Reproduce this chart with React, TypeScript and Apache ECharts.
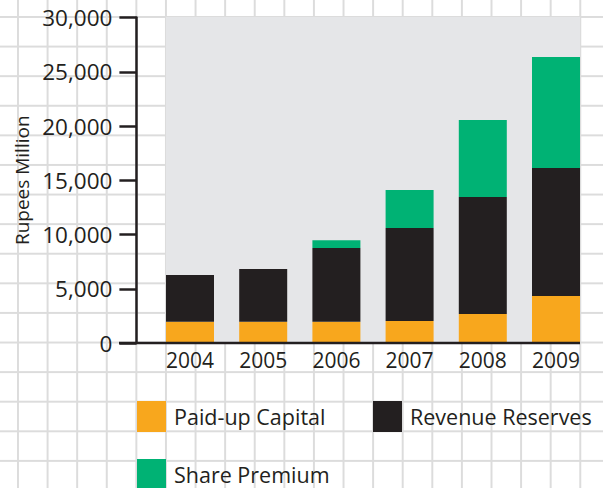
import React, { useEffect, useRef } from "react";
import * as echarts from "echarts";

const years = ["2004", "2005", "2006", "2007", "2008", "2009"];
const paidUpCapital = [1950, 1950, 1950, 2030, 2670, 4330];
const revenueReserves = [4320, 4870, 6800, 8570, 10790, 11800];
const sharePremium = [0, 0, 730, 3500, 7090, 10230];

const COLORS = { orange: "#f8a71d", black: "#231f20", green: "#00b274", gray: "#e5e6e8" };
const FONT = "Open Sans";
const TEXT = "#231f20";

export default function App() {
  const ref = useRef<HTMLDivElement>(null);
  useEffect(() => {
    if (!ref.current) return;
    const chart = echarts.init(ref.current, undefined, { renderer: "svg" });
    const legendBase = {
      orient: "horizontal",
      padding: 0,
      itemWidth: 29,
      itemHeight: 31,
      icon: "rect",
      selectedMode: false,
      textStyle: { fontFamily: FONT, fontSize: 21.5, lineHeight: 22, color: TEXT, padding: [0, 0, 0, 3] },
    };
    chart.setOption({
      animation: false,
      textStyle: { fontFamily: FONT },
      grid: { left: 153.4, right: 10.4, top: 17.5, bottom: 145 },
      graphic: [
        { type: "rect", z: -10, shape: { x: 166, y: 17, width: 414, height: 326 }, style: { fill: COLORS.gray } },
        { type: "line", z: 100, shape: { x1: 119, y1: 343, x2: 580, y2: 343 }, style: { stroke: TEXT, lineWidth: 2.5 } },
      ],
      legend: [
        { ...legendBase, left: 137, top: 401, data: ["Paid-up Capital"] },
        { ...legendBase, left: 373, top: 401, data: ["Revenue Reserves"] },
        { ...legendBase, left: 137, top: 459, data: ["Share Premium"] },
      ],
      xAxis: {
        type: "category",
        data: years,
        axisLine: { show: false },
        axisTick: { show: false },
        axisLabel: { fontFamily: FONT, fontSize: 21, color: TEXT, margin: 6 },
      },
      yAxis: {
        type: "value",
        min: 0,
        max: 30000,
        interval: 5000,
        offset: 17,
        name: "Rupees Million",
        nameLocation: "middle",
        nameGap: 103,
        nameTextStyle: { fontFamily: FONT, fontSize: 19, color: TEXT },
        axisLine: { show: true, lineStyle: { color: TEXT, width: 2.5 } },
        axisTick: { show: true, length: 17, lineStyle: { color: TEXT, width: 2.5 } },
        axisLabel: {
          fontFamily: FONT,
          fontSize: 22.5,
          color: TEXT,
          margin: 24,
          formatter: (v: number) => v.toLocaleString("en-US"),
        },
        splitLine: { show: false },
      },
      series: [
        { name: "Paid-up Capital", type: "bar", stack: "t", barWidth: 48, data: paidUpCapital, itemStyle: { color: COLORS.orange } },
        { name: "Revenue Reserves", type: "bar", stack: "t", barWidth: 48, data: revenueReserves, itemStyle: { color: COLORS.black } },
        { name: "Share Premium", type: "bar", stack: "t", barWidth: 48, data: sharePremium, itemStyle: { color: COLORS.green } },
      ],
    });
    return () => chart.dispose();
  }, []);

  return (
    <div
      style={{
        position: "absolute",
        left: 0,
        top: 0,
        width: 603,
        height: 488,
        backgroundColor: "#ffffff",
        backgroundImage:
          "linear-gradient(to right, #dcdcdc 2px, transparent 2px), linear-gradient(to bottom, #dcdcdc 2px, transparent 2px)",
        backgroundSize: "29.6px 29.6px",
        backgroundPosition: "17px 16px",
      }}
    >
      <div ref={ref} style={{ width: 603, height: 488 }} />
    </div>
  );
}
